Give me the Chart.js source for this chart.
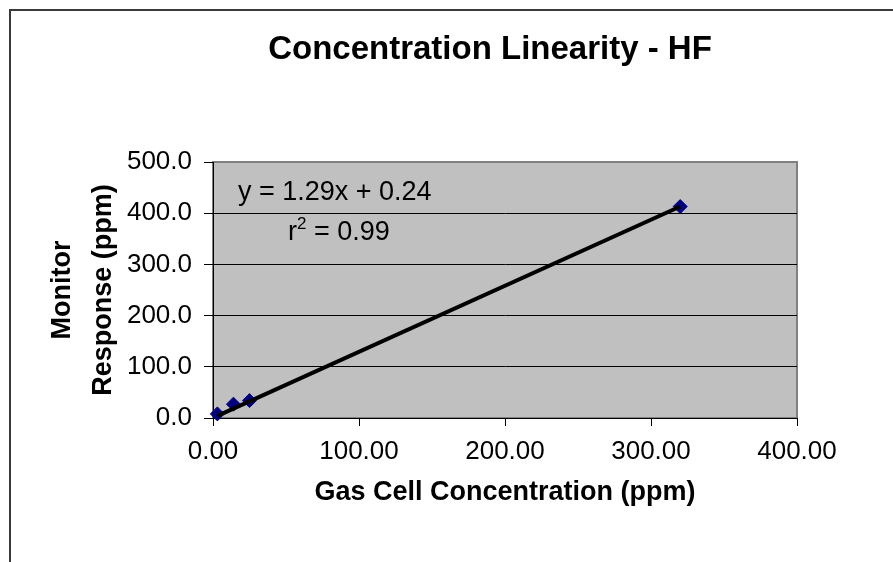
<!DOCTYPE html>
<html lang="en">
<head>
<meta charset="UTF-8">
<title>Concentration Linearity - HF</title>
<script src="https://cdn.jsdelivr.net/npm/chart.js"></script>
<style>
  body { margin: 0; padding: 0; background: #fff; overflow: hidden; }
  #frame {
    position: absolute; left: 9px; top: 9px; width: 950px; height: 620px;
    border-left: 2px solid #3a3a3a; border-top: 2px solid #3a3a3a;
  }
  #chartCanvas { position: absolute; left: 0; top: 0; }
</style>
</head>
<body>
<div id="frame"></div>
<canvas id="chartCanvas" width="893" height="562"></canvas>
<script>
// values
const gasCell = [3, 14, 25, 320];      // x, ppm
const monitor = [8, 27, 34, 413];      // y, ppm
const slope = 1.29;
const intercept = 0.24;
const rSquared = 0.99;
const xTicks = [0, 100, 200, 300, 400];
const yTicks = [0, 100, 200, 300, 400, 500];

const FONT = 'Arial, "Liberation Sans", sans-serif';

const points = gasCell.map((x, i) => ({ x: x, y: monitor[i] }));
const xMin = Math.min(...gasCell), xMax = Math.max(...gasCell);
const trend = [xMin, xMax].map(x => ({ x: x, y: slope * x + intercept }));

const plotBackground = {
  id: 'plotBackground',
  beforeDraw(chart) {
    const { ctx, chartArea: a } = chart;
    ctx.save();
    ctx.fillStyle = '#c0c0c0';
    ctx.fillRect(a.left, a.top, a.right - a.left, a.bottom - a.top);
    ctx.strokeStyle = '#808080';
    ctx.lineWidth = 2;
    ctx.strokeRect(a.left, a.top, a.right - a.left, a.bottom - a.top);
    ctx.restore();
  }
};

const labels = {
  id: 'labels',
  afterDraw(chart) {
    const { ctx, chartArea: a } = chart;
    ctx.save();
    ctx.fillStyle = '#000';
    ctx.textBaseline = 'middle';
    ctx.textAlign = 'center';
    ctx.font = 'bold 33px ' + FONT;
    ctx.fillText('Concentration Linearity - HF', 490, 50);

    // trendline label
    ctx.textAlign = 'left';
    ctx.font = '27px ' + FONT;
    ctx.fillText('y = ' + slope + 'x + ' + intercept, a.left + 25, a.top + 31);
    let x = a.left + 75;
    ctx.fillText('r', x, a.top + 71);
    x += ctx.measureText('r').width;
    ctx.font = '17px ' + FONT;
    ctx.fillText('2', x, a.top + 62);
    x += ctx.measureText('2').width;
    ctx.font = '27px ' + FONT;
    ctx.fillText(' = ' + rSquared, x, a.top + 71);
    ctx.restore();
  }
};

new Chart(document.getElementById('chartCanvas'), {
  type: 'scatter',
  data: {
    datasets: [
      {
        label: 'Trend',
        data: trend,
        showLine: true,
        borderColor: '#000',
        borderWidth: 4,
        pointRadius: 0,
        order: 0
      },
      {
        label: 'HF',
        data: points,
        pointStyle: 'rectRot',
        pointRadius: 7,
        backgroundColor: '#000080',
        borderColor: '#000080',
        clip: false,
        order: 1
      }
    ]
  },
  options: {
    responsive: false,
    animation: false,
    layout: { padding: { top: 162, right: 96, left: 0, bottom: 0 } },
    plugins: { legend: { display: false }, tooltip: { enabled: false } },
    scales: {
      x: {
        type: 'linear',
        min: xTicks[0],
        max: xTicks[xTicks.length - 1],
        afterBuildTicks: s => { s.ticks = xTicks.map(v => ({ value: v })); },
        afterFit: s => { s.height = 144; },
        ticks: {
          callback: v => Number(v).toFixed(2),
          color: '#000',
          font: { family: FONT, size: 26 },
          padding: 10,
          maxRotation: 0
        },
        grid: { drawOnChartArea: false, tickColor: '#000', tickLength: 8 },
        border: { color: '#000', width: 1 },
        title: {
          display: true,
          text: 'Gas Cell Concentration (ppm)',
          color: '#000',
          font: { family: FONT, size: 27, weight: 'bold', lineHeight: 1.2 },
          padding: { top: 0, bottom: 53 }
        }
      },
      y: {
        min: yTicks[0],
        max: yTicks[yTicks.length - 1],
        afterBuildTicks: s => { s.ticks = yTicks.map(v => ({ value: v })); },
        afterFit: s => { s.width = 213; },
        ticks: {
          callback: v => Number(v).toFixed(1),
          color: '#000',
          font: { family: FONT, size: 26 },
          padding: 12
        },
        grid: {
          color: c => (c.tick && c.tick.value === 500 ? '#808080' : '#000'),
          tickColor: '#000',
          tickLength: 9,
          lineWidth: 1
        },
        border: { color: '#000', width: 1 },
        title: {
          display: true,
          text: ['Monitor', 'Response (ppm)'],
          color: '#000',
          font: { family: FONT, size: 27, weight: 'bold', lineHeight: 1.52 },
          padding: { top: 42, bottom: 0 }
        }
      }
    }
  },
  plugins: [plotBackground, labels]
});
</script>
</body>
</html>
